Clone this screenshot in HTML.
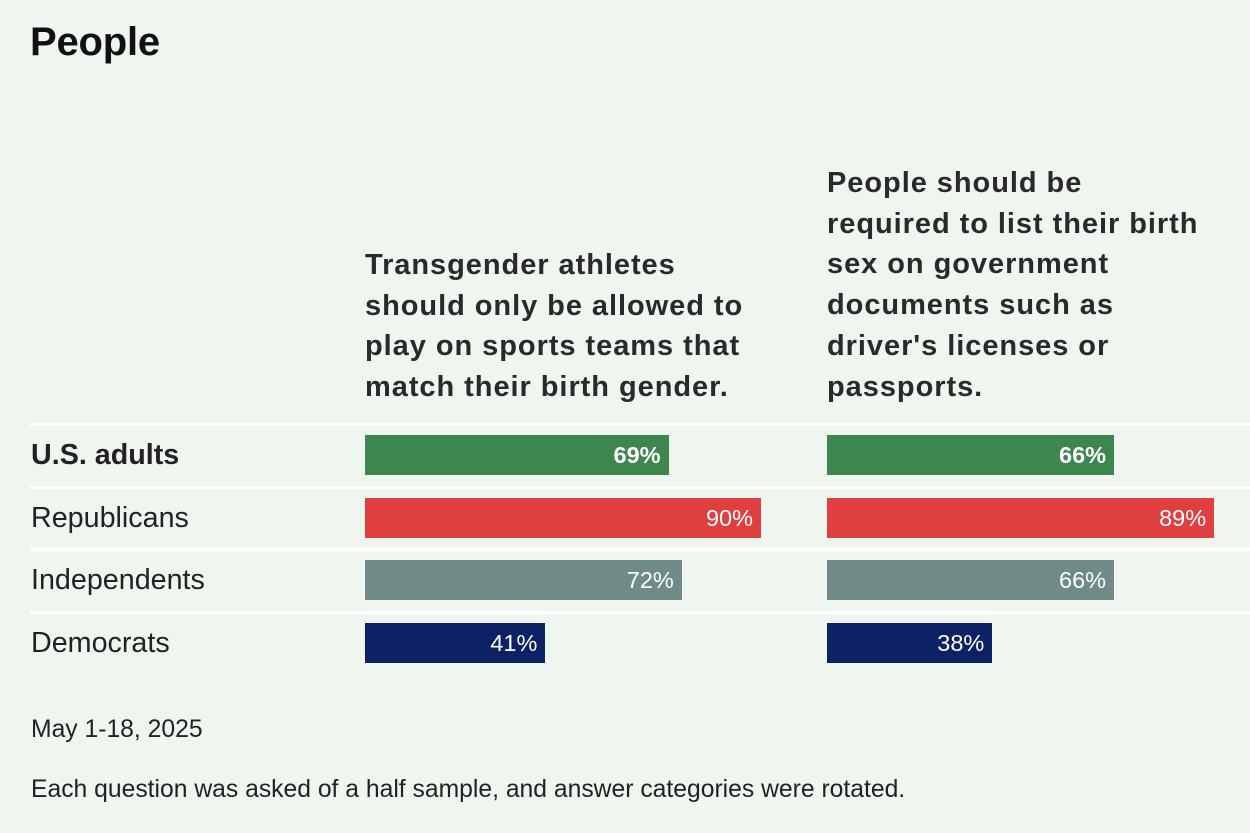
<!DOCTYPE html>
<html><head><meta charset="utf-8"><style>
body{margin:0;background:#eff6ef;width:1250px;height:833px;overflow:hidden;position:relative;font-family:"Liberation Sans",sans-serif;color:#222}
.abs{position:absolute}
.title{left:30px;top:20px;font-size:40px;font-weight:bold;color:#111;letter-spacing:-0.2px}
.hdr{font-size:29px;font-weight:bold;line-height:40.7px;color:#2a2a2a;white-space:nowrap;letter-spacing:0.95px}
.sep{left:30px;width:1220px;height:3px;background:#fff}
.lab{left:31px;font-size:28.7px;line-height:40px}
.bar{height:40px;color:#fff;font-size:23.5px;line-height:40px;text-align:right;box-sizing:border-box;padding-right:8px}
.foot{left:31px;font-size:24.7px}
</style></head><body>
<div class="abs title">People</div>
<div class="abs hdr" style="left:365px;top:245px">Transgender athletes<br>should only be allowed to<br>play on sports teams that<br>match their birth gender.</div>
<div class="abs hdr" style="left:827px;top:163px">People should be<br>required to list their birth<br>sex on government<br>documents such as<br>driver's licenses or<br>passports.</div>
<div id="chart"></div>
<div class="abs foot" style="top:716px">May 1-18, 2025</div>
<div class="abs foot" style="top:776px">Each question was asked of a half sample, and answer categories were rotated.</div>
<script>
const groups=["U.S. adults","Republicans","Independents","Democrats"];
const athletes=[69,90,72,41];
const documents=[66,89,66,38];
const colors=["#3d874f","#df3f3f","#6f8a87","#0c2265"];
const root=document.getElementById('chart');
const rowTop=i=>435+i*62.7;
const panels=[{x:365,scale:4.4,vals:athletes,name:'athletes'},{x:827,scale:4.35,vals:documents,name:'documents'}];
groups.forEach((g,i)=>{
  const s=document.createElement('div');s.className='abs sep';s.style.top=(rowTop(i)-12)+'px';
  
  
  root.appendChild(s);
  const l=document.createElement('div');l.className='abs lab';l.style.top=rowTop(i)+'px';l.textContent=g;
  if(i===0)l.style.fontWeight='bold';
  
  
  root.appendChild(l);
  panels.forEach(p=>{
    const b=document.createElement('div');b.className='abs bar';
    b.style.left=p.x+'px';b.style.top=rowTop(i)+'px';b.style.width=(p.vals[i]*p.scale)+'px';
    b.style.background=colors[i];b.textContent=p.vals[i]+'%';
    if(i===0)b.style.fontWeight='bold';
    
    
    root.appendChild(b);
  });
});
</script>
</body></html>
